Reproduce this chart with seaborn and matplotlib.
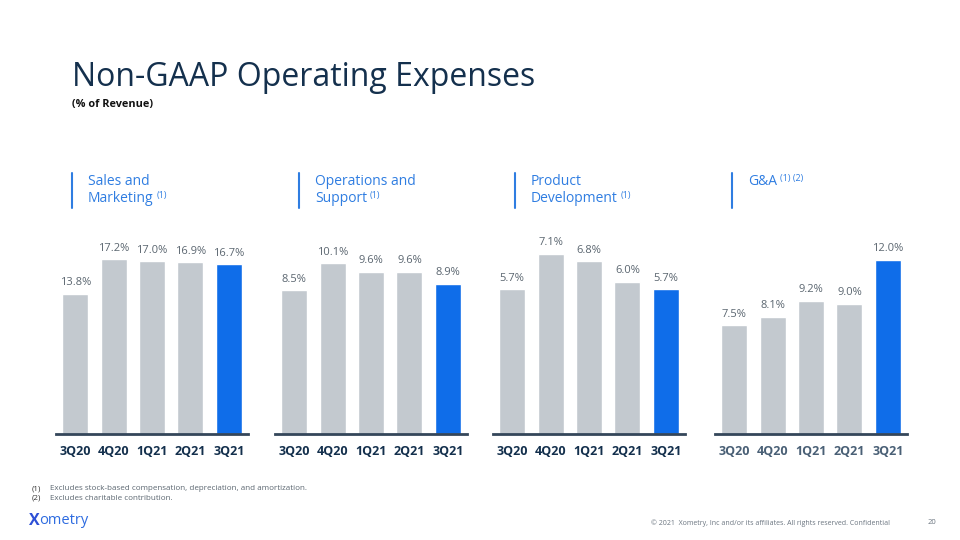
import matplotlib
matplotlib.use("Agg")
import matplotlib.pyplot as plt
import numpy as np
import pandas as pd
import seaborn as sns

quarters = ["3Q20", "4Q20", "1Q21", "2Q21", "3Q21"]
sales_marketing = [13.8, 17.2, 17.0, 16.9, 16.7]
operations_support = [8.5, 10.1, 9.6, 9.6, 8.9]
product_development = [5.7, 7.1, 6.8, 6.0, 5.7]
g_and_a = [7.5, 8.1, 9.2, 9.0, 12.0]

panel_titles = [("Sales and", "Marketing", "(1)"),
                ("Operations and", "Support", "(1)"),
                ("Product", "Development", "(1)"),
                ("G&A", None, "(1) (2)")]
series = [sales_marketing, operations_support, product_development, g_and_a]

footnotes = ["Excludes stock-based compensation, depreciation, and amortization.",
             "Excludes charitable contribution."]

GREY = "#C3C9CF"
BLUE = "#0F6DE9"
NAVY = "#14304D"
HEAD_BLUE = "#2F7DE1"
LABEL_GREY = "#5B6670"

sns.set_theme(style="white")
plt.rcParams["font.family"] = ["Open Sans", "DejaVu Sans"]

fig = plt.figure(figsize=(9.6, 5.4), dpi=100)

W, H = 960, 540
ax_left = [56, 275, 493, 715]
ax_w = 192
base_y = 434
ax_h = 200
# px per percentage point in each panel
px_per_pct = [10.15, 16.9, 25.4, 14.5]
line_x = [72, 299, 515, 732]
tick_colors = [NAVY, NAVY, NAVY, "#4A6076"]

renderer = fig.canvas.get_renderer()

for i, vals in enumerate(series):
    ax = fig.add_axes([ax_left[i] / W, 1 - base_y / H, ax_w / W, ax_h / H])
    df = pd.DataFrame({"quarter": quarters, "value": vals})
    colors = [GREY] * 4 + [BLUE]
    sns.barplot(data=df, x="quarter", y="value", hue="quarter", palette=colors,
                legend=False, width=0.68, ax=ax, saturation=1)
    ax.set_xlim(-0.5, 4.5)
    ax.set_ylim(0, ax_h / px_per_pct[i])
    for c in ax.containers:
        ax.bar_label(c, fmt="%.1f%%", padding=4, fontsize=8, color=LABEL_GREY)
    for s in ["top", "left", "right"]:
        ax.spines[s].set_visible(False)
    ax.spines["bottom"].set_color("#34465A")
    ax.spines["bottom"].set_linewidth(2)
    ax.set_yticks([])
    ax.set_xlabel("")
    ax.set_ylabel("")
    ax.tick_params(axis="x", length=0, pad=8)
    for lab in ax.get_xticklabels():
        lab.set_fontweight("bold")
        lab.set_fontsize(9)
        lab.set_color(tick_colors[i])

    # panel header with blue bar on the left
    fig.add_artist(plt.Line2D([line_x[i] / W] * 2, [1 - 173 / H, 1 - 208 / H],
                              color=HEAD_BLUE, lw=1.5))
    l1, l2, sup = panel_titles[i]
    tx = (line_x[i] + 16) / W
    t1 = fig.text(tx, 1 - 181.5 / H, l1, fontsize=10, color=HEAD_BLUE, va="center")
    last = t1
    if l2:
        last = fig.text(tx, 1 - 198.5 / H, l2, fontsize=10, color=HEAD_BLUE, va="center")
    bb = last.get_window_extent(renderer=renderer)
    fig.text((bb.x1 + 3) / W, bb.y1 / H, sup, fontsize=6.5, color=HEAD_BLUE, va="top")

fig.text(72 / W, 1 - 77 / H, "Non-GAAP Operating Expenses", fontsize=23, color=NAVY, va="center")
fig.text(72 / W, 1 - 105 / H, "(% of Revenue)", fontsize=7.8, fontweight="bold", color="#111111", va="center")

for j, note in enumerate(footnotes):
    y = 1 - (489 + 9 * j) / H
    fig.text(32 / W, y, f"({j + 1})", fontsize=5.8, color="#333333", va="center")
    fig.text(50 / W, y, note, fontsize=5.8, color="#5B6670", va="center")

fig.text(29 / W, 1 - 521 / H, "X", fontsize=11.5, fontweight="bold", color="#2D4FD6", va="center")
fig.text(39 / W, 1 - 521 / H, "ometry", fontsize=10.5, color="#2D6BE0", va="center")

fig.text(651 / W, 1 - 523 / H, "\u00a9 2021  Xometry, Inc and/or its affiliates. All rights reserved. Confidential",
         fontsize=5, color="#6B7580", va="center")
fig.text(928 / W, 1 - 523 / H, "20", fontsize=5.5, color="#6B7580", va="center")

fig.savefig("out.png", dpi=100)
